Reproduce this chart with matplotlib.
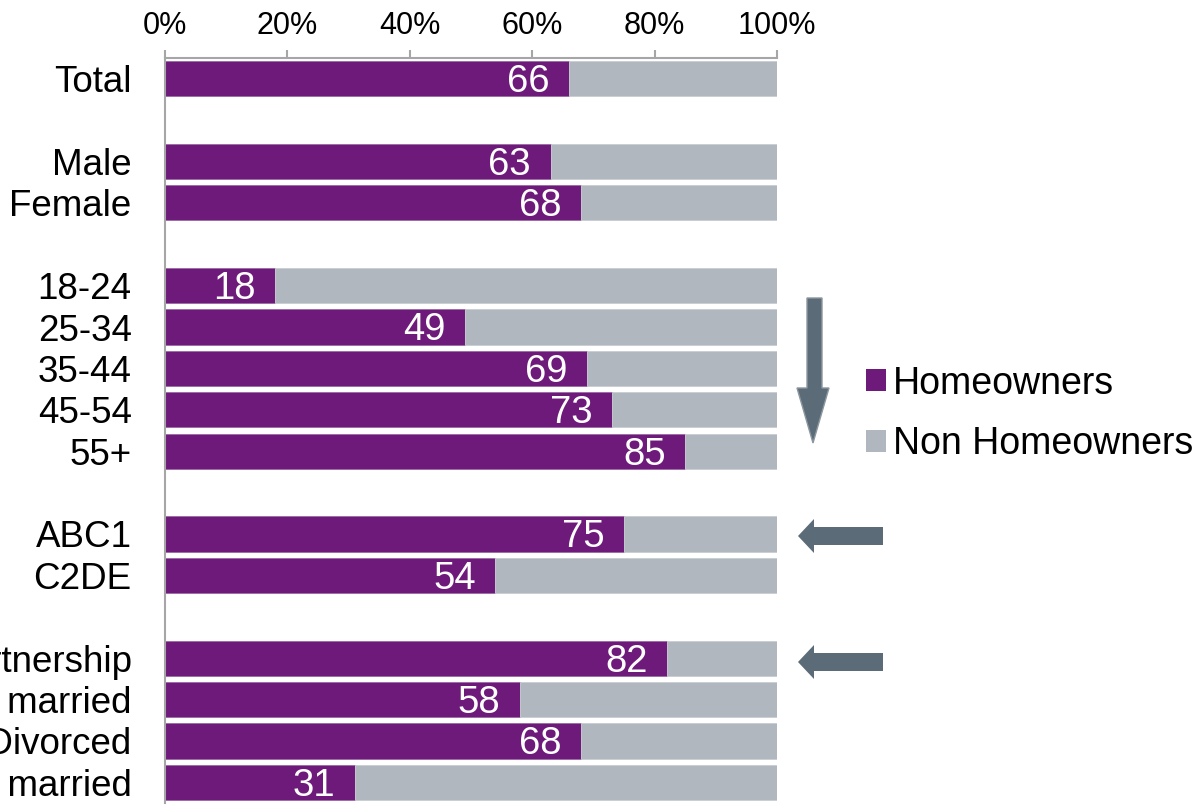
import matplotlib
matplotlib.use("Agg")
import matplotlib.pyplot as plt
from matplotlib.patches import Polygon, Patch

plt.rcParams['font.family'] = ['Liberation Sans', 'DejaVu Sans']

# ---- data ----
groups = [
    ["Total"],
    ["Male", "Female"],
    ["18-24", "25-34", "35-44", "45-54", "55+"],
    ["ABC1", "C2DE"],
    ["Married/civil partnership", "Living together, not married",
     "Separated/Divorced", "Single, never married"],
]
homeowners = [
    [66],
    [63, 68],
    [18, 49, 69, 73, 85],
    [75, 54],
    [82, 58, 68, 31],
]
series_names = ["Homeowners", "Non Homeowners"]
xticks = [0, 20, 40, 60, 80, 100]
xtick_labels = ["0%", "20%", "40%", "60%", "80%", "100%"]

PURPLE = "#6e1a7a"
GREY = "#b0b7be"
ARROW = "#5b6b78"

W, H = 1200, 807
fig = plt.figure(figsize=(W / 100, H / 100), dpi=100)
ax = fig.add_axes([165 / W, 1 - 803 / H, 612 / W, (803 - 58) / H])

# positions with one blank row between groups
labels, vals, pos = [], [], []
p = 0
for g, v in zip(groups, homeowners):
    for lab, val in zip(g, v):
        labels.append(lab)
        vals.append(val)
        pos.append(p)
        p += 1
    p += 1
rest = [100 - v for v in vals]

bh = 0.85
ax.barh(pos, vals, height=bh, color=PURPLE, edgecolor="#9a6aa2", linewidth=0.6,
        label=series_names[0])
ax.barh(pos, rest, left=vals, height=bh, color=GREY, edgecolor="#c8cdd2",
        linewidth=0.6, label=series_names[1])

for y, v in zip(pos, vals):
    ax.annotate(f"{v}", xy=(v, y), xytext=(-14, -2.5), textcoords="offset points",
                ha="right", va="center", color="white", fontsize=27.5)

ax.set_xlim(0, 100)
ax.set_ylim(p - 1 - 0.5, -0.5)
ax.set_yticks(pos)
ax.set_yticklabels(labels, fontsize=26.5)
ax.set_xticks(xticks)
ax.set_xticklabels(xtick_labels, fontsize=22)
ax.xaxis.tick_top()
ax.tick_params(axis="x", direction="out", length=6, width=1.5, color="#a6a6a6",
               pad=6.5)
ax.tick_params(axis="y", length=0, pad=24)
for s in ["right", "bottom"]:
    ax.spines[s].set_visible(False)
for s in ["top", "left"]:
    ax.spines[s].set_color("#a6a6a6")
    ax.spines[s].set_linewidth(1.5)

# legend
handles = [Patch(facecolor=PURPLE), Patch(facecolor=GREY)]
fig.legend(handles, series_names, loc="center left",
           bbox_to_anchor=(866 / W, 1 - 414 / H), bbox_transform=fig.transFigure,
           frameon=False, fontsize=27, handlelength=0.53, handleheight=0.53,
           handletextpad=0.2, labelspacing=0.66, borderpad=0, borderaxespad=0)

# arrows (figure pixel coordinates)
def px(pts):
    return [(x / W, 1 - y / H) for x, y in pts]

down = [(807, 298), (822, 298), (822, 388), (829, 388), (813, 443),
        (797, 388), (807, 388)]
fig.add_artist(Polygon(px(down), closed=True, transform=fig.transFigure,
                       facecolor=ARROW, edgecolor="#8c979f", linewidth=1))
for cy in (536, 662):
    left = [(883, cy - 9), (883, cy + 9), (814, cy + 9), (814, cy + 17),
            (798, cy), (814, cy - 17), (814, cy - 9)]
    fig.add_artist(Polygon(px(left), closed=True, transform=fig.transFigure,
                           facecolor=ARROW, edgecolor="none"))

fig.savefig("out.png", dpi=100)
